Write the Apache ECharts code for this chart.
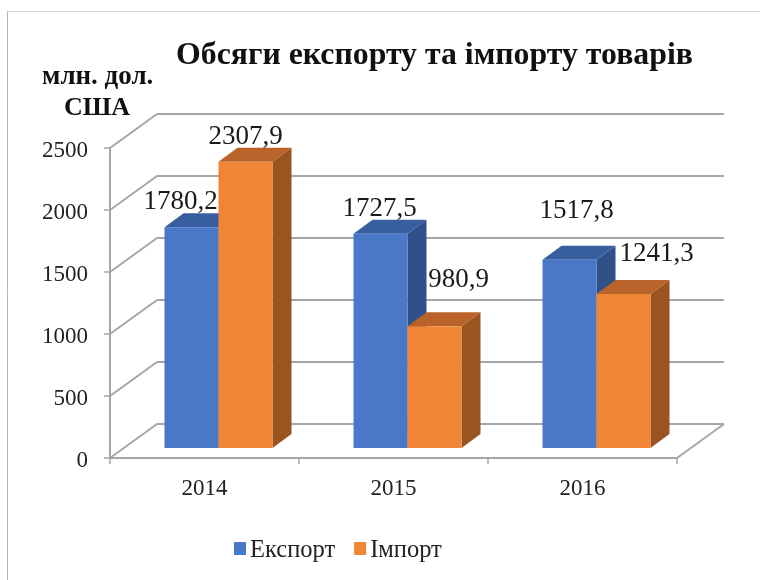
<!DOCTYPE html>
<html lang="uk">
<head>
    <meta charset="UTF-8">
    <title>Обсяги експорту та імпорту товарів</title>
    <style>
        body { margin: 0; background: #fff; }
        #chart { width: 760px; height: 580px; }
    </style>
    <script src="https://cdn.jsdelivr.net/npm/echarts@6/dist/echarts.min.js"></script>
</head>
<body>
    <div id="chart"></div>
    <script>
      const years = ['2014', '2015', '2016'];
      const exportValues = [1780.2, 1727.5, 1517.8];
      const importValues = [2307.9, 980.9, 1241.3];
      const yTicks = [0, 500, 1000, 1500, 2000, 2500];

      // hand placed data labels, px from the top of the bar front
      const exportLabelShift = [[-11, -25], [-1, -25], [7, -49]];
      const importLabelShift = [[0, -25], [24, -46], [33, -40]];

      const serif = '"Liberation Serif", serif';
      const wallColor = '#a6a6a6';

      // fake 3D: how far the back wall and the bars sit from the front plane
      const wall = { dx: 47, dy: -34 };
      const barFront = { dx: 14, dy: -10 };
      const barDepth = { dx: 19, dy: -14 };
      const barWidth = 54;

      function wallLine(x1, y1, x2, y2) {
        return {
          type: 'line',
          shape: { x1, y1, x2, y2 },
          style: { stroke: wallColor, lineWidth: 2 }
        };
      }

      function renderWall(params, api) {
        const p = api.coord([0, api.value(0)]);
        const band = api.size([1, 0])[0];
        const left = p[0] - band / 2;
        const right = left + band * years.length;
        const y = p[1];
        const children = [
          wallLine(left, y, left + wall.dx, y + wall.dy),
          wallLine(left + wall.dx, y + wall.dy, right + wall.dx, y + wall.dy)
        ];
        if (api.value(0) === 0) {
          children.push(wallLine(right, y, right + wall.dx, y + wall.dy));
        }
        return { type: 'group', children };
      }

      function poly(points, fill) {
        return { type: 'polygon', shape: { points }, style: { fill } };
      }

      // side is -1 for the left bar of a pair, 0 for the right one
      function barRenderer(side, colors, shifts) {
        return function (params, api) {
          const i = params.dataIndex;
          const base = api.coord([i, 0]);
          const top = api.coord([i, api.value(1)]);
          const x0 = base[0] + barFront.dx + side * barWidth;
          const x1 = x0 + barWidth;
          const y0 = base[1] + barFront.dy;
          const y1 = top[1] + barFront.dy;
          const dx = barDepth.dx;
          const dy = barDepth.dy;
          return {
            type: 'group',
            children: [
              poly([[x1, y1], [x1 + dx, y1 + dy], [x1 + dx, y0 + dy], [x1, y0]], colors[2]),
              poly([[x0, y1], [x0 + dx, y1 + dy], [x1 + dx, y1 + dy], [x1, y1]], colors[1]),
              poly([[x0, y1], [x1, y1], [x1, y0], [x0, y0]], colors[0]),
              {
                type: 'text',
                z2: 10,
                style: {
                  x: (x0 + x1) / 2 + shifts[i][0],
                  y: y1 + shifts[i][1],
                  text: api.value(1).toFixed(1).replace('.', ','),
                  font: '27px ' + serif,
                  fill: '#1a1a1a',
                  align: 'center',
                  verticalAlign: 'middle'
                }
              }
            ]
          };
        };
      }

      const chart = echarts.init(document.getElementById('chart'));

      chart.setOption({
        backgroundColor: '#fff',
        animation: false,
        title: [
          { text: 'Обсяги експорту та імпорту товарів', left: 171, top: 35,
            textStyle: { fontFamily: serif, fontSize: 31.8, fontWeight: 'bold', color: '#111' } },
          { text: 'млн. дол.', left: 37, top: 59,
            textStyle: { fontFamily: serif, fontSize: 27, fontWeight: 'bold', color: '#111' } },
          { text: 'США', left: 59, top: 90,
            textStyle: { fontFamily: serif, fontSize: 26, fontWeight: 'bold', color: '#111' } }
        ],
        legend: {
          data: ['Експорт', 'Імпорт'],
          left: 229, top: 533,
          icon: 'rect',
          itemWidth: 12, itemHeight: 13, itemGap: 19,
          formatter: name => '{t|' + name + '}',
          textStyle: {
            rich: {
              t: { fontFamily: serif, fontSize: 24.5, color: '#222', padding: [4, 0, 0, -1] }
            }
          }
        },
        grid: { left: 110, right: 83, top: 148, bottom: 122 },
        xAxis: {
          type: 'category',
          data: years,
          axisLine: { lineStyle: { color: wallColor, width: 2 } },
          axisTick: { show: true, length: 6, alignWithLabel: false, lineStyle: { color: wallColor, width: 1.5 } },
          axisLabel: { fontFamily: serif, fontSize: 23, color: '#222', margin: 19 }
        },
        yAxis: {
          type: 'value',
          min: 0, max: 2500, interval: 500,
          splitLine: { show: false },
          axisLine: { show: true, lineStyle: { color: wallColor, width: 2 } },
          axisTick: { show: true, length: 6, lineStyle: { color: wallColor, width: 1.5 } },
          axisLabel: {
            margin: 22,
            formatter: v => '{v|' + v + '}',
            rich: {
              v: { fontFamily: serif, fontSize: 23, color: '#222', padding: [6, 0, 0, 0] }
            }
          }
        },
        graphic: [
          { type: 'line', shape: { x1: 7.5, y1: 11.5, x2: 760, y2: 11.5 }, style: { stroke: '#d9d9d9', lineWidth: 1 } },
          { type: 'line', shape: { x1: 7.5, y1: 11.5, x2: 7.5, y2: 580 }, style: { stroke: '#b5b5b5', lineWidth: 1 } }
        ],
        series: [
          {
            type: 'custom',
            silent: true,
            renderItem: renderWall,
            encode: { y: 0 },
            data: yTicks.map(v => [v]),
            z: 1
          },
          {
            name: 'Експорт',
            type: 'custom',
            renderItem: barRenderer(-1, ['#4a78c8', '#375f9f', '#2f5088'], exportLabelShift),
            itemStyle: { color: '#4a78c8' },
            encode: { x: 0, y: 1 },
            data: exportValues.map((v, i) => [i, v]),
            z: 2
          },
          {
            name: 'Імпорт',
            type: 'custom',
            renderItem: barRenderer(0, ['#ef8535', '#b9622a', '#9a541f'], importLabelShift),
            itemStyle: { color: '#ef8535' },
            encode: { x: 0, y: 1 },
            data: importValues.map((v, i) => [i, v]),
            z: 3
          }
        ]
      });
    </script>
</body>
</html>
